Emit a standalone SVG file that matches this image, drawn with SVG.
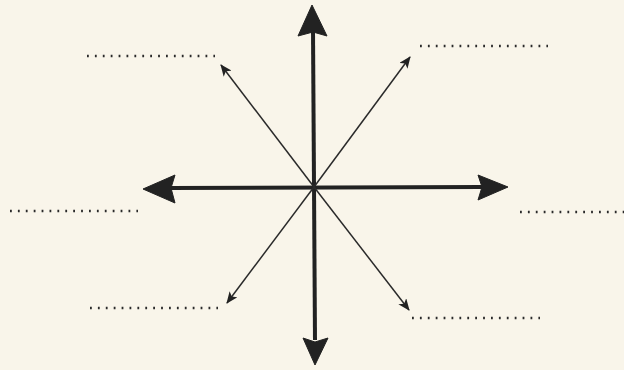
<svg xmlns="http://www.w3.org/2000/svg" width="624" height="370" viewBox="0 0 624 370">
<style>
.thick{stroke:#222;stroke-width:4;fill:none;stroke-linecap:butt}
.thin{stroke:#2a2a2a;stroke-width:1.5;fill:none}
.head{fill:#222;stroke:#222;stroke-width:1;stroke-linejoin:round}
.dots{stroke:#2a2a2a;stroke-width:2.5;stroke-dasharray:1.8 6.1;fill:none}
</style>
<defs>
<marker id="sm" viewBox="0 0 12 10" refX="11" refY="5" markerWidth="12" markerHeight="10" markerUnits="userSpaceOnUse" orient="auto">
<path d="M0,0 L12,5 L0,10 L3,5 Z" fill="#222"/>
</marker>
</defs>
<rect width="624" height="370" fill="#f9f5ea"/>
<g id="connectors">
<line class="thick" x1="313" y1="30" x2="315" y2="340"/>
<line class="thick" x1="170" y1="188" x2="482" y2="187"/>
<line class="thin" x1="314" y1="187" x2="410" y2="57" marker-end="url(#sm)"/>
<line class="thin" x1="314" y1="187" x2="221" y2="65" marker-end="url(#sm)"/>
<line class="thin" x1="314" y1="187" x2="227" y2="303" marker-end="url(#sm)"/>
<line class="thin" x1="314" y1="187" x2="409" y2="310" marker-end="url(#sm)"/>
</g>
<g id="arrowheads">
<path class="head" d="M312,5 L327,36 L313,32 L298,36 Z"/>
<path class="head" d="M143,189 L175,175 L171,188 L175,203 Z"/>
<path class="head" d="M508,187 L478,175 L482,187 L478,200 Z"/>
<path class="head" d="M315,365 L303,338 L315,342 L328,338 Z"/>
</g>
<g id="blank-top-left"><line class="dots" x1="87" y1="56" x2="215" y2="56"/></g>
<g id="blank-top-right"><line class="dots" x1="420" y1="46" x2="548" y2="46"/></g>
<g id="blank-left"><line class="dots" x1="10" y1="211" x2="138" y2="211"/></g>
<g id="blank-right"><line class="dots" x1="520" y1="212" x2="624" y2="212"/></g>
<g id="blank-bottom-left"><line class="dots" x1="90" y1="308" x2="218" y2="308"/></g>
<g id="blank-bottom-right"><line class="dots" x1="412" y1="318" x2="540" y2="318"/></g>
</svg>
